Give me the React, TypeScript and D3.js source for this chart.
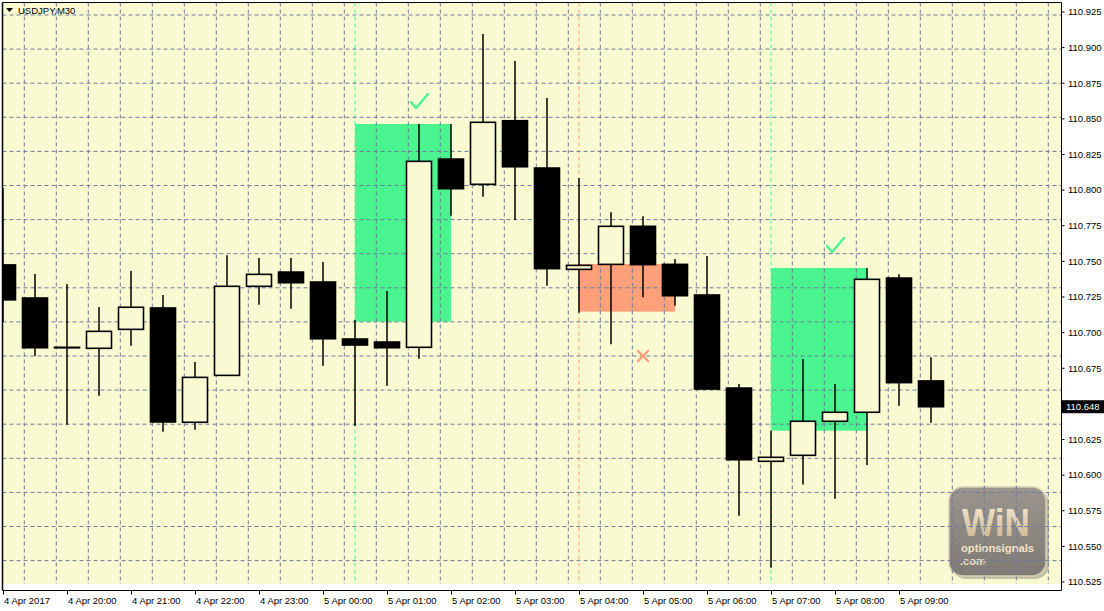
import React from "react";
import * as d3 from "d3";

// ---- data ----
const opens = [110.7475,110.7243,110.6897,110.6890,110.7023,110.7173,110.6371,110.6700,110.7325,110.7425,110.7355,110.6955,110.6934,110.6897,110.8218,110.8041,110.8487,110.8155,110.7444,110.7479,110.7746,110.7479,110.7264,110.6611,110.6097,110.6139,110.6378,110.6441,110.7383,110.6661];
const highs = [110.8015,110.7411,110.7341,110.7180,110.7432,110.7264,110.6794,110.7543,110.7524,110.7524,110.7496,110.7089,110.7292,110.8464,110.8464,110.9096,110.8906,110.8646,110.8085,110.7844,110.7816,110.7517,110.7538,110.6639,110.6312,110.6815,110.6639,110.7454,110.7409,110.6827];
const lows = [110.7075,110.6836,110.6354,110.6557,110.6908,110.6305,110.6319,110.6700,110.7196,110.7168,110.6768,110.6345,110.6628,110.6817,110.7821,110.7954,110.7790,110.7329,110.7140,110.6918,110.7248,110.7189,110.6604,110.5715,110.5350,110.5935,110.5835,110.6071,110.6487,110.6368];
const closes = [110.7230,110.6894,110.6896,110.7009,110.7178,110.6373,110.6686,110.7325,110.7409,110.7350,110.6957,110.6913,110.6894,110.8202,110.8010,110.8476,110.8164,110.7449,110.7472,110.7746,110.7477,110.7259,110.6604,110.6108,110.6125,110.6378,110.6441,110.7374,110.6649,110.6480];

const timeLabels = [
  { i: 0, t: "4 Apr 2017" }, { i: 2, t: "4 Apr 20:00" }, { i: 4, t: "4 Apr 21:00" },
  { i: 6, t: "4 Apr 22:00" }, { i: 8, t: "4 Apr 23:00" }, { i: 10, t: "5 Apr 00:00" },
  { i: 12, t: "5 Apr 01:00" }, { i: 14, t: "5 Apr 02:00" }, { i: 16, t: "5 Apr 03:00" },
  { i: 18, t: "5 Apr 04:00" }, { i: 20, t: "5 Apr 05:00" }, { i: 22, t: "5 Apr 06:00" },
  { i: 24, t: "5 Apr 07:00" }, { i: 26, t: "5 Apr 08:00" }, { i: 28, t: "5 Apr 09:00" },
];
const priceTicks = [110.925,110.9,110.875,110.85,110.825,110.8,110.775,110.75,110.725,110.7,110.675,110.65,110.625,110.6,110.575,110.55,110.525];
const lastPrice = 110.648;

const signalStarts = [11, 18, 24];
const signalEnds = [14, 21, 27];
const signalTops = [110.8464, 110.7482, 110.7454];
const signalBottoms = [110.7077, 110.7147, 110.6312];
const signalWins = [true, false, true];
const markIdx = [13, 20, 26];
const markPrice = [110.8625, 110.6836, 110.7615];

const W = 1104, H = 611;
const PL = 2.5, PR = 1061.5, PT = 2.5, PB = 590.5, YB = 584;

export default function App() {
  const x = d3.scaleLinear().domain([0, 29]).range([3, 931]);
  const y = d3.scaleLinear().domain([110.525, 110.925]).range([582, 12]);
  const bodyW = 25;
  const gridCol = "#6b7c9c";
  const green = "#4af590";
  const salmon = "#ffa07a";
  const font = "'Liberation Sans', Arial, sans-serif";

  const gridX = d3.range(0, 33).map((k) => 24.3 + 32 * k).filter((v) => v < PR);
  const gridY = d3.range(0, 17).map((k) => 15 + 34.1 * k).filter((v) => v < YB);
  const shownTicks = priceTicks.filter((p) => Math.abs(y(p) - y(lastPrice)) > 8);

  return (
    <svg width={W} height={H} style={{ position: "fixed", left: 0, top: 0, background: "#fff" }}>
      <defs>
        <clipPath id="plot"><rect x={PL} y={PT} width={PR - PL} height={YB - PT} /></clipPath>
        <linearGradient id="logoBg" x1="0" y1="0" x2="0" y2="1">
          <stop offset="0" stopColor="#9b958e" />
          <stop offset="1" stopColor="#7f7a75" />
        </linearGradient>
        <linearGradient id="logoTx" x1="0" y1="0" x2="0" y2="1">
          <stop offset="0" stopColor="#f6ead2" />
          <stop offset="1" stopColor="#c9b28c" />
        </linearGradient>
      </defs>
      <rect x={0} y={0} width={W} height={H} fill="#fff" />
      <rect x={PL} y={PT} width={PR - PL} height={YB - PT} fill="#fafad2" />
      <g clipPath="url(#plot)">
        {signalStarts.map((s, k) => (
          <line key={"vl" + k} x1={x(s)} x2={x(s)} y1={PT} y2={YB}
            stroke={signalWins[k] ? green : salmon} strokeDasharray="4,3" strokeWidth={1} />
        ))}
        {signalStarts.map((s, k) => (
          <rect key={"sr" + k} x={x(s)} width={x(signalEnds[k]) - x(s)}
            y={y(signalTops[k])} height={y(signalBottoms[k]) - y(signalTops[k])}
            fill={signalWins[k] ? green : salmon} />
        ))}
        {/* logo */}
        <g>
          <rect x={950} y={488} width={97} height={89} rx={14} fill="#5a5651" opacity={0.35} transform="translate(2,2)" />
          <rect x={949} y={487} width={97} height={89} rx={14} fill="url(#logoBg)" stroke="#d9ccb2" strokeWidth={1.5} />
          <text x={962} y={536} fontFamily={font} fontWeight="bold" fontSize={38} fill="url(#logoTx)"
            textLength={68} lengthAdjust="spacingAndGlyphs">WiN</text>
          <text x={961} y={552} fontFamily={font} fontWeight="bold" fontSize={11} fill="#f0e2c6"
            textLength={73} lengthAdjust="spacingAndGlyphs">optionsignals</text>
          <text x={960} y={565} fontFamily={font} fontWeight="bold" fontSize={11} fill="#f0e2c6">.com</text>
        </g>
        {gridY.map((gy, k) => (
          <line key={"gy" + k} x1={PL} x2={PR} y1={gy} y2={gy} stroke={gridCol} strokeDasharray="4,3" strokeWidth={1} />
        ))}
        {gridX.map((gx, k) => (
          <line key={"gx" + k} x1={gx} x2={gx} y1={PT} y2={YB} stroke={gridCol} strokeDasharray="4,3" strokeWidth={1} />
        ))}
        {opens.map((o, i) => {
          const c = closes[i];
          const up = c >= o;
          const top = y(Math.max(o, c));
          const bot = y(Math.min(o, c));
          const cx = x(i);
          return (
            <g key={"c" + i}>
              <line x1={cx} x2={cx} y1={y(highs[i])} y2={y(lows[i])} stroke="#000" strokeWidth={1.5} />
              <rect x={cx - bodyW / 2} y={top} width={bodyW} height={Math.max(bot - top, 0.5)}
                fill={up ? "#fafad2" : "#000"} stroke="#000" strokeWidth={1.6} />
            </g>
          );
        })}
        {markIdx.map((mi, k) => {
          const mx = x(mi), my = y(markPrice[k]);
          return signalWins[k] ? (
            <path key={"m" + k} d={`M${mx - 8},${my + 1} L${mx - 3},${my + 7} L${mx + 9},${my - 7}`}
              fill="none" stroke={green} strokeWidth={2.4} strokeLinecap="round" strokeLinejoin="round" />
          ) : (
            <path key={"m" + k} d={`M${mx - 5},${my - 5} L${mx + 5},${my + 5} M${mx + 5},${my - 5} L${mx - 5},${my + 5}`}
              fill="none" stroke={salmon} strokeWidth={2.4} strokeLinecap="round" />
          );
        })}
      </g>
      <line x1={PL} x2={PL} y1={PT} y2={PB} stroke="#000" strokeWidth={1.5} />
      <line x1={PL} x2={PR} y1={PT} y2={PT} stroke="#000" strokeWidth={1} />
      <line x1={PR} x2={PR} y1={PT} y2={PB} stroke="#000" strokeWidth={1} />
      <line x1={PL} x2={PR} y1={PB} y2={PB} stroke="#000" strokeWidth={1} />
      <path d="M6,8 L13,8 L9.5,12 Z" fill="#000" />
      <text x={18} y={14} fontFamily={font} fontSize={9.5} fill="#000">USDJPY,M30</text>
      {priceTicks.map((p, k) => (
        <line key={"ptl" + k} x1={PR} x2={PR + 3} y1={y(p)} y2={y(p)} stroke="#000" strokeWidth={1} />
      ))}
      {shownTicks.map((p, k) => (
        <text key={"pt" + k} x={1068} y={y(p)} dy="0.35em" fontFamily={font} fontSize={9.5} fill="#000">{p.toFixed(3)}</text>
      ))}
      <rect x={PR + 0.5} y={y(lastPrice) - 6.5} width={W - PR} height={13} fill="#000" />
      <text x={1066} y={y(lastPrice)} dy="0.35em" fontFamily={font} fontSize={9.5} fill="#fff">{lastPrice.toFixed(3)}</text>
      {timeLabels.map((tl, k) => (
        <g key={"tl" + k}>
          <line x1={x(tl.i) + 0.5} x2={x(tl.i) + 0.5} y1={PB} y2={PB + 4} stroke="#000" strokeWidth={1} />
          <text x={x(tl.i) + 1} y={604} fontFamily={font} fontSize={9.5} fill="#000">{tl.t}</text>
        </g>
      ))}
    </svg>
  );
}
